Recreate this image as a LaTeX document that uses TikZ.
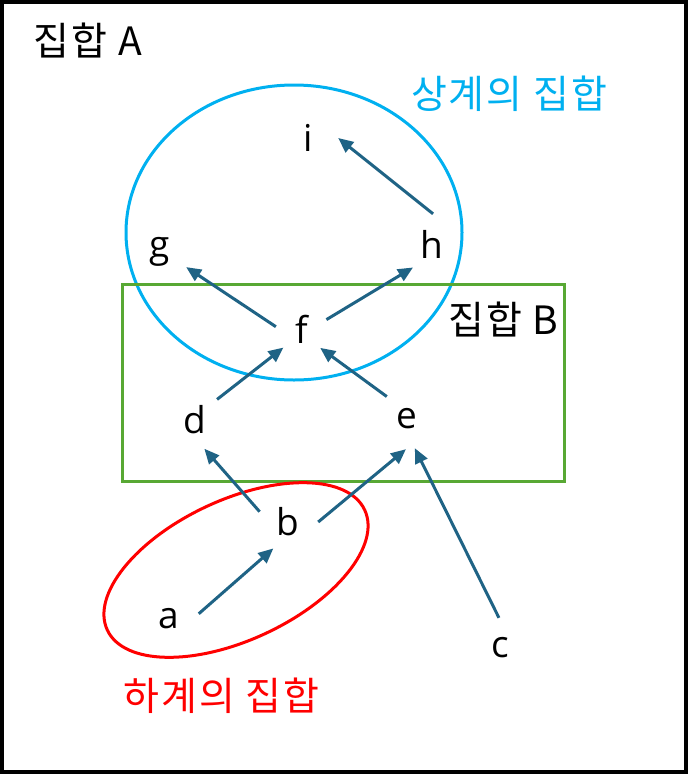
\documentclass[tikz,border=0pt]{standalone}
\usepackage{fontspec}
\setmainfont{Noto Sans CJK KR}
\newfontfamily\labelfont{Noto Sans CJK KR}[LetterSpace=5]
\newfontfamily\letterfont{Open Sans}
\usetikzlibrary{arrows.meta}
\definecolor{arrowblue}{RGB}{31,99,133}
\definecolor{upperblue}{RGB}{0,176,240}
\definecolor{setgreen}{RGB}{88,168,52}

\begin{document}
\begin{tikzpicture}[x=1pt,y=-1pt,
  elt/.style={circle,minimum size=60pt,inner sep=0pt,font=\letterfont\fontsize{37}{37}\selectfont},
  lbl/.style={inner sep=0pt,font=\labelfont\fontsize{39}{39}\selectfont},
  rel/.style={-{Triangle[length=15pt,width=13pt]},line width=3pt,draw=arrowblue}]
\useasboundingbox (0,0) rectangle (688,774);
\draw[line width=4pt] (1.5,1.5) rectangle (685.5,771.5);

% sets
\draw[upperblue,line width=3pt] (294,232.5) ellipse [x radius=168pt,y radius=147.5pt];
\draw[setgreen,line width=3pt] (122,284) rectangle (564,481);
\draw[red,line width=3pt,rotate around={25:(236,570)}] (236,570) ellipse [x radius=142pt,y radius=70pt];

% elements
\node[elt] (i) at (308,138) {i};
\node[elt] (g) at (160,252) {g};
\node[elt] (h) at (432,244) {h};
\node[elt,minimum size=52pt] (f) at (302,329) {f};
\node[elt] (d) at (195,420) {d};
\node[elt] (e) at (407,419) {e};
\node[elt] (b) at (288,522) {b};
\node[elt] (a) at (169,619) {a};
\node[elt] (c) at (500,648) {c};

% labels
\node[lbl] (setA) at (88,41) {집합 A};
\node[lbl,text=upperblue] (upper) at (509,94) {상계의 집합};
\node[lbl] (setB) at (503.5,319) {집합 B};
\node[lbl,text=red] (lower) at (221.5,696) {하계의 집합};

\path
(h.88)  edge[rel] (i.0)
(f.175) edge[rel] (g.-30)
(f.21)  edge[rel] (h.-129)
(d.43)  edge[rel] (f.-135)
(e.132) edge[rel] (f.-46)
(b.160) edge[rel] (d.-72)
(b.0)   edge[rel] (e.-92)
(a.10)  edge[rel] (b.-119)
(c.92)  edge[rel] (e.-75)
;
\end{tikzpicture}
\end{document}
